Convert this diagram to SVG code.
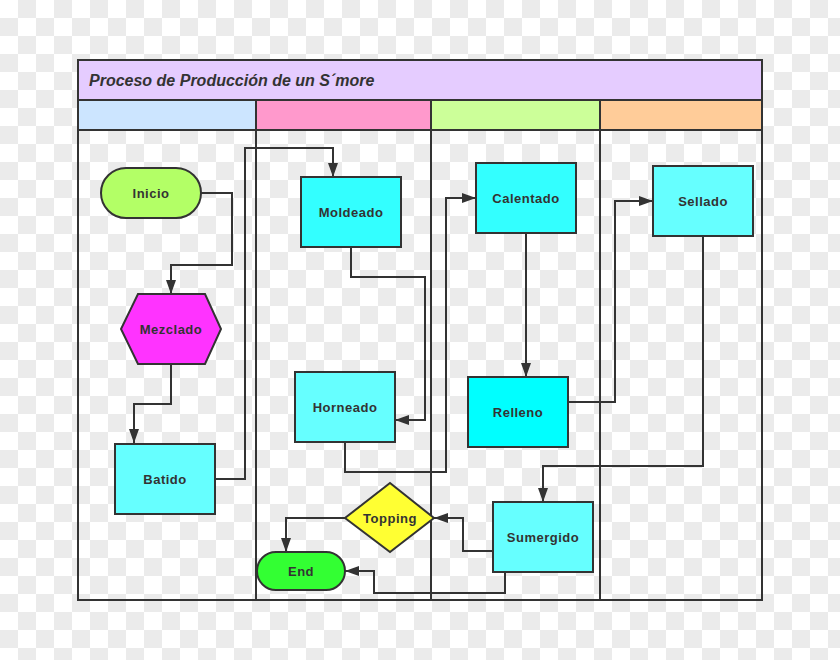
<svg xmlns="http://www.w3.org/2000/svg" width="840" height="660" viewBox="0 0 840 660">
<style>
.n{stroke:#333;stroke-width:2}
.t{font-family:"Liberation Sans",Arial,sans-serif;font-weight:bold;font-size:13px;fill:#333;text-anchor:middle;dominant-baseline:central;letter-spacing:0.5px}
.c{fill:none;stroke:#333;stroke-width:2;marker-end:url(#ah)}
.l{fill:none;stroke:#333;stroke-width:2}
</style>
<defs>
<pattern id="chk" width="36" height="36" patternUnits="userSpaceOnUse">
<rect width="36" height="36" fill="#ffffff"/>
<rect x="18" y="0" width="18" height="18" fill="#ebebeb"/>
<rect x="0" y="18" width="18" height="18" fill="#ebebeb"/>
</pattern>
<marker id="ah" markerWidth="14" markerHeight="10" refX="14" refY="5" orient="auto" markerUnits="userSpaceOnUse">
<path d="M0,0 L14,5 L0,10 z" fill="#333"/>
</marker>
</defs>
<rect width="840" height="660" fill="url(#chk)"/>
<g id="pool">
<rect x="78" y="60" width="684" height="40" fill="#e5ccff" class="n"/>
<text x="89" y="80" font-family="'Liberation Sans',Arial,sans-serif" font-weight="bold" font-style="italic" font-size="16" fill="#333" dominant-baseline="central">Proceso de Producción de un S´more</text>
<rect x="78" y="100" width="178" height="30" fill="#cce5ff" class="n"/>
<rect x="256" y="100" width="175" height="30" fill="#ff99cc" class="n"/>
<rect x="431" y="100" width="169" height="30" fill="#ccff99" class="n"/>
<rect x="600" y="100" width="162" height="30" fill="#ffcc99" class="n"/>
<rect x="78" y="130" width="684" height="470" fill="none" class="n"/>
<line x1="256" y1="130" x2="256" y2="600" class="n"/>
<line x1="431" y1="130" x2="431" y2="600" class="n"/>
<line x1="600" y1="130" x2="600" y2="600" class="n"/>
</g>
<g id="connectors">
<path class="c" d="M201,193 H232 V265 H171 V294"/>
<path class="c" d="M171,364 V404 H134 V443"/>
<path class="c" d="M215,479 H245 V148 H333 V177"/>
<path class="c" d="M351,247 V277 H425 V420 H395"/>
<path class="c" d="M345,442 V472 H446 V198 H476"/>
<path class="c" d="M526,233 V377"/>
<path class="c" d="M568,402 H615 V201 H653"/>
<path class="c" d="M703,236 V466 H543 V502"/>
<path class="c" d="M493,551 H463 V518 H434"/>
<path class="c" d="M345,518 H286 V552"/>
<path class="c" d="M505,572 V593 H374 V571 H345"/>
</g>
<g id="inicio"><rect x="101" y="168" width="100" height="50" rx="25" fill="#b3ff66" class="n"/><text x="151" y="193" class="t">Inicio</text></g>
<g id="mezclado"><polygon points="138,294 205,294 221,329 205,364 138,364 121,329" fill="#ff33ff" class="n"/><text x="171" y="329" class="t">Mezclado</text></g>
<g id="batido"><rect x="115" y="444" width="100" height="70" fill="#66ffff" class="n"/><text x="165" y="479" class="t">Batido</text></g>
<g id="moldeado"><rect x="301" y="177" width="100" height="70" fill="#33ffff" class="n"/><text x="351" y="212" class="t">Moldeado</text></g>
<g id="horneado"><rect x="295" y="372" width="100" height="70" fill="#66ffff" class="n"/><text x="345" y="407" class="t">Horneado</text></g>
<g id="topping"><polygon points="390,483 434,518 390,552 345,518" fill="#ffff33" class="n"/><text x="390" y="518" class="t">Topping</text></g>
<g id="end"><rect x="257" y="552" width="88" height="38" rx="19" fill="#33ff33" class="n"/><text x="301" y="571" class="t">End</text></g>
<g id="calentado"><rect x="476" y="163" width="100" height="70" fill="#33ffff" class="n"/><text x="526" y="198" class="t">Calentado</text></g>
<g id="relleno"><rect x="468" y="377" width="100" height="70" fill="#00ffff" class="n"/><text x="518" y="412" class="t">Relleno</text></g>
<g id="sellado"><rect x="653" y="166" width="100" height="70" fill="#66ffff" class="n"/><text x="703" y="201" class="t">Sellado</text></g>
<g id="sumergido"><rect x="493" y="502" width="100" height="70" fill="#66ffff" class="n"/><text x="543" y="537" class="t">Sumergido</text></g>
</svg>
